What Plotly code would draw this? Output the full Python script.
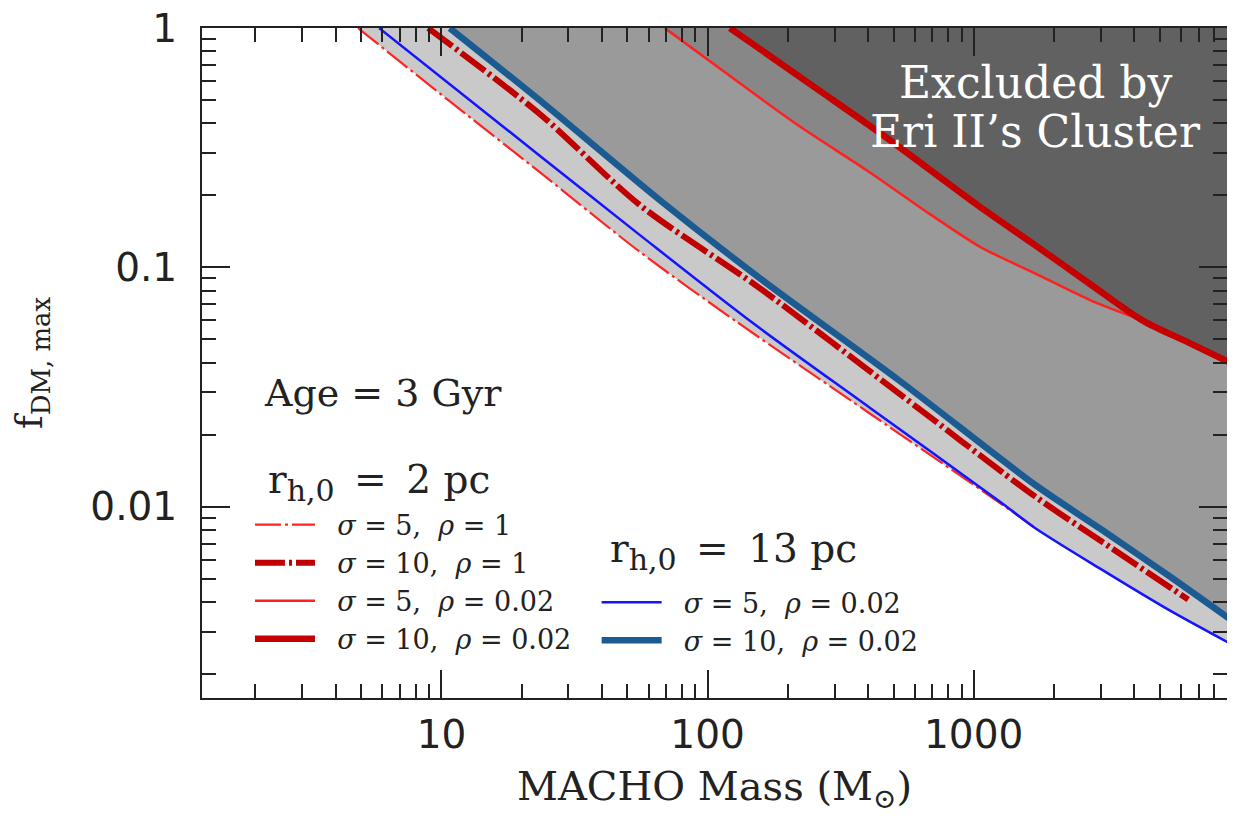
import plotly.graph_objects as go

# ---------------- data ----------------
# r_h,0 = 2 pc, sigma = 5, rho = 1   (thin red dash-dot)
mass_s5_r1 = [4.86, 10.7, 23.4, 55.7, 128.5, 407, 1256, 1700]
fdm_s5_r1 = [1.0, 0.496, 0.250, 0.116, 0.0593, 0.0245, 0.01035, 0.00817]

# r_h,0 = 2 pc, sigma = 10, rho = 1  (thick dark-red dash-dot)
mass_s10_r1 = [8.91, 23.4, 55.7, 157.4, 528, 1700, 3030, 6400]
fdm_s10_r1 = [1.0, 0.4377, 0.182, 0.0817, 0.0295, 0.01103, 0.00714, 0.00409]

# r_h,0 = 2 pc, sigma = 5, rho = 0.02  (thin red)
mass_s5_r002 = [69.1, 132.3, 221.6, 396, 685, 1056, 1700, 2736, 4285]
fdm_s5_r002 = [1.0, 0.5877, 0.3888, 0.2547, 0.1669, 0.1219, 0.0944, 0.0730, 0.0602]

# r_h,0 = 2 pc, sigma = 10, rho = 0.02 (thick dark red)
mass_s10_r002 = [121.3, 256.9, 457, 1056, 1700, 2736, 4285, 6392, 9600]
fdm_s10_r002 = [1.0, 0.5586, 0.3566, 0.1791, 0.1239, 0.0852, 0.0602, 0.0486, 0.0391]

# r_h,0 = 13 pc, sigma = 5, rho = 0.02 (thin blue)
mass_13_s5 = [5.83, 23.4, 55.7, 148, 407, 1256, 1700, 3030, 5390, 9600]
fdm_13_s5 = [1.0, 0.293, 0.1364, 0.0585, 0.0259, 0.01048, 0.00814, 0.00545, 0.00371, 0.00261]

# r_h,0 = 13 pc, sigma = 10, rho = 0.02 (thick blue)
mass_13_s10 = [10.74, 23.4, 66.2, 157.4, 528, 1700, 3030, 5395, 9600]
fdm_13_s10 = [1.0, 0.499, 0.1908, 0.0900, 0.0335, 0.01234, 0.0080, 0.00515, 0.00327]

x_ticks = [10, 100, 1000]
x_ticktext = ["10", "100", "1000"]
y_ticks = [0.01, 0.1, 1]
y_ticktext = ["0.01", "0.1", "1"]
x_minor = [m * d for d in (1, 10, 100, 1000) for m in range(2, 10)]
y_minor = [m * d for d in (0.001, 0.01, 0.1) for m in range(2, 10)]

X_LOG_RANGE = [0.1, 3.952]
Y_LOG_RANGE = [-2.8, 0.0005]
X_FAR = 1e5
Y_TOP = 2.0

labels_2pc = ["<i>σ</i> = 5,  <i>ρ</i> = 1", "<i>σ</i> = 10,  <i>ρ</i> = 1",
              "<i>σ</i> = 5,  <i>ρ</i> = 0.02", "<i>σ</i> = 10,  <i>ρ</i> = 0.02"]
labels_13pc = ["<i>σ</i> = 5,  <i>ρ</i> = 0.02", "<i>σ</i> = 10,  <i>ρ</i> = 0.02"]
PAD = "\u00a0\u00a0"

SERIF = "DejaVu Serif"
SANS = "DejaVu Sans"
INK = "#222222"

fig = go.Figure()


def region_above(xs, ys, color):
    # invisible ceiling above the plot, then the boundary curve filled up to it
    fig.add_trace(go.Scatter(x=[xs[0], X_FAR], y=[Y_TOP, Y_TOP], mode="lines",
                             line=dict(width=0), showlegend=False, hoverinfo="skip"))
    fig.add_trace(go.Scatter(x=xs, y=ys, mode="lines", fill="tonexty",
                             fillcolor=color, line=dict(width=0, shape="spline", smoothing=0.8),
                             showlegend=False, hoverinfo="skip"))


# lower boundary of the light band: thin red dash-dot then thin blue
low_x = [v for v in mass_s5_r1 if v <= 1256] + [v for v in mass_13_s5 if v > 1256]
low_y = [f for v, f in zip(mass_s5_r1, fdm_s5_r1) if v <= 1256] + \
        [f for v, f in zip(mass_13_s5, fdm_13_s5) if v > 1256]
region_above(low_x, low_y, "#c9c9c9")
region_above(mass_13_s10, fdm_13_s10, "#9a9a9a")
mid_x = mass_s5_r002 + [v for v in mass_s10_r002 if v > mass_s5_r002[-1]]
mid_y = fdm_s5_r002 + [f for v, f in zip(mass_s10_r002, fdm_s10_r002) if v > mass_s5_r002[-1]]
region_above(mid_x, mid_y, "#878787")
region_above(mass_s10_r002, fdm_s10_r002, "#616161")


def curve(xs, ys, name, color, width, dash, legend, group):
    fig.add_trace(go.Scatter(x=xs, y=ys, mode="lines", name=PAD + name,
                             line=dict(color=color, width=width, dash=dash,
                                       shape="spline", smoothing=0.8),
                             legend=legend, legendgroup=group))


curve(mass_s5_r1, fdm_s5_r1, labels_2pc[0], "#ff2323", 2.2, "26px,4px,3px,4px", "legend", "a")
curve(mass_s10_r1, fdm_s10_r1, labels_2pc[1], "#c00000", 6, "30px,4px,3px,4px", "legend", "b")
curve(mass_13_s5, fdm_13_s5, labels_13pc[0], "#1414ff", 2.5, "solid", "legend2", "e")
curve(mass_13_s10, fdm_13_s10, labels_13pc[1], "#1c5b92", 6.5, "solid", "legend2", "f")
curve(mass_s5_r002, fdm_s5_r002, labels_2pc[2], "#ff2020", 2.5, "solid", "legend", "c")
curve(mass_s10_r002, fdm_s10_r002, labels_2pc[3], "#c40000", 6.5, "solid", "legend", "d")

axis_common = dict(type="log", showgrid=False, zeroline=False, showline=True,
                   linecolor=INK, linewidth=2, mirror="allticks",
                   ticks="inside", ticklen=28, tickwidth=2, tickcolor=INK,
                   tickfont=dict(family=SANS, size=39, color=INK), automargin=False,
                   ticklabeloverflow="allow")

fig.update_xaxes(range=X_LOG_RANGE, tickmode="array", tickvals=x_ticks, ticktext=x_ticktext,
                 minor=dict(tickmode="array", tickvals=x_minor, ticks="inside", ticklen=14,
                            tickwidth=2, tickcolor=INK, showgrid=False),
                 title=dict(text="MACHO Mass (M<sub>⊙</sub>)",
                            font=dict(family=SERIF, size=40, color=INK), standoff=17),
                 ticklabelstandoff=1,
                 **axis_common)
fig.update_yaxes(range=Y_LOG_RANGE, tickmode="array", tickvals=y_ticks, ticktext=y_ticktext,
                 minor=dict(tickmode="array", tickvals=y_minor, ticks="inside", ticklen=14,
                            tickwidth=2, tickcolor=INK, showgrid=False),
                 title=dict(text="f<sub>DM, max</sub>",
                            font=dict(family=SERIF, size=37, color=INK), standoff=36),
                 ticklabelstandoff=15,
                 **axis_common)

legend_common = dict(xanchor="left", yanchor="top", bgcolor="rgba(0,0,0,0)",
                     font=dict(family=SERIF, size=27, color=INK),
                     itemwidth=60, traceorder="grouped", tracegroupgap=0,
                     itemclick=False, itemdoubleclick=False)

SUB_STYLE = "font-size:30px"
EQ = "\u2002=\u2002"

fig.update_layout(
    width=1219, height=807,
    margin=dict(l=194, r=0, t=20, b=117, autoexpand=False),
    paper_bgcolor="white", plot_bgcolor="white",
    legend=dict(x=0.0468, y=0.2948, **legend_common),
    legend2=dict(x=0.385, y=0.1788, **legend_common),
    annotations=[
        dict(text="Age = 3 Gyr", xref="paper", yref="paper", x=0.0587, y=0.455,
             xanchor="left", yanchor="middle", showarrow=False,
             font=dict(family=SERIF, size=38, color=INK)),
        dict(text=f"r<sub><span style='{SUB_STYLE}'>h,0</span></sub>{EQ}2 pc",
             xref="paper", yref="paper", x=0.0627, y=0.322,
             xanchor="left", yanchor="middle", showarrow=False,
             font=dict(family=SERIF, size=39, color=INK)),
        dict(text=f"r<sub><span style='{SUB_STYLE}'>h,0</span></sub>{EQ}13 pc",
             xref="paper", yref="paper", x=0.396, y=0.219,
             xanchor="left", yanchor="middle", showarrow=False,
             font=dict(family=SERIF, size=39, color=INK)),
        dict(text="Excluded by", xref="paper", yref="paper",
             x=0.8136, y=0.918, xanchor="center", yanchor="middle", showarrow=False,
             font=dict(family=SERIF, size=44, color="white")),
        dict(text="Eri II’s Cluster", xref="paper", yref="paper",
             x=0.8136, y=0.845, xanchor="center", yanchor="middle", showarrow=False,
             font=dict(family=SERIF, size=44, color="white")),
    ],
)

fig.write_html("out.html")
